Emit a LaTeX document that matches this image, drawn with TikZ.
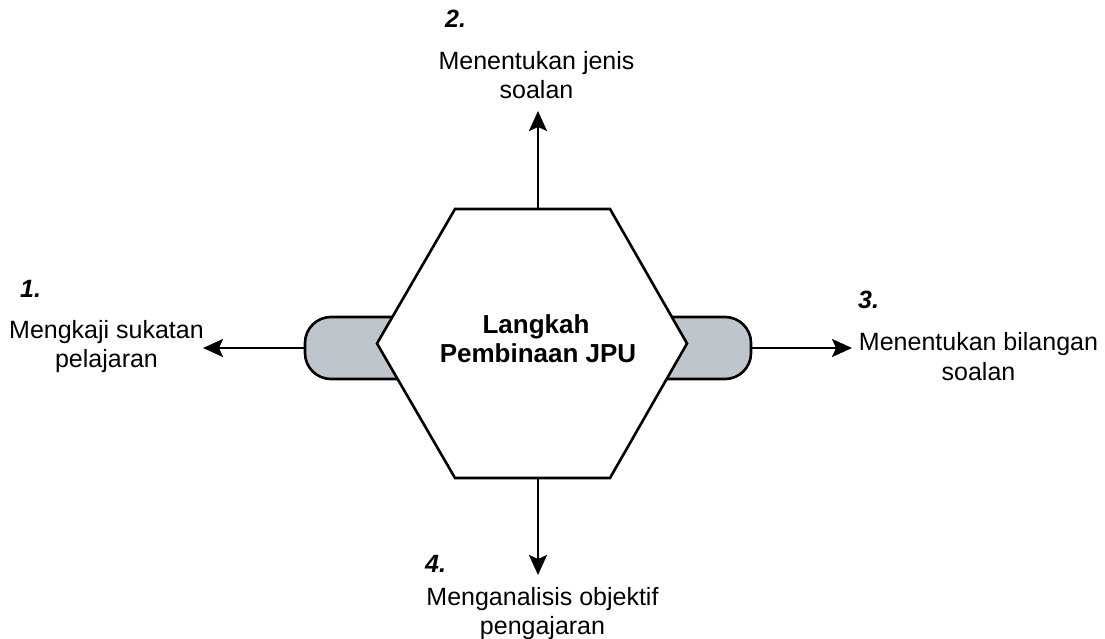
\documentclass[tikz,border=0pt]{standalone}
\usepackage{fontspec}
\setmainfont{Liberation Sans}
\usetikzlibrary{arrows.meta}
\definecolor{capgray}{RGB}{191,197,204}
\tikzset{
  outline/.style={draw=black, line width=2.6pt, line join=miter},
  capsule/.style={outline, fill=capgray, rounded corners=26pt},
  conn/.style={draw=black, line width=2.2pt, -{Stealth[length=20pt,width=18pt,inset=4pt]}},
  lbl/.style={inner sep=0pt, anchor=base, font=\fontsize{25pt}{29pt}\selectfont},
  num/.style={inner sep=0pt, anchor=base west, font=\fontsize{25pt}{29pt}\selectfont\bfseries\itshape},
  ctr/.style={inner sep=0pt, anchor=base, font=\fontsize{26pt}{29pt}\selectfont\bfseries}
}
\begin{document}
\begin{tikzpicture}[x=1pt,y=-1pt]
\useasboundingbox (0,0) rectangle (1105,639);
% capsules behind hexagon
\path[capsule] (305,317) rectangle (450,379);
\path[capsule] (615,317) rectangle (751,379);
% hexagon
\coordinate (h1) at (455,209);
\coordinate (h2) at (610,209);
\coordinate (h3) at (687,343.5);
\coordinate (h4) at (610,478);
\coordinate (h5) at (455,478);
\coordinate (h6) at (377,343.5);
\path[outline, fill=white] (h1) -- (h2) -- (h3) -- (h4) -- (h5) -- (h6) -- cycle;
% connector ends
\coordinate (capL) at (305,348);
\coordinate (capR) at (751,348);
\coordinate (hexT) at (538,209);
\coordinate (hexB) at (538,478);
\coordinate (tipL) at (203,348);
\coordinate (tipR) at (852,348);
\coordinate (tipT) at (538,111);
\coordinate (tipB) at (538,575);
\draw[conn] (capL) -- (tipL);
\draw[conn] (capR) -- (tipR);
\draw[conn] (hexT) -- (tipT);
\draw[conn] (hexB) -- (tipB);
% centre text
\node[ctr] (c1) at (536,333) {Langkah};
\node[ctr] (c2) at (538,362) {Pembinaan JPU};
% labels
\node[num] (n2) at (445,28) {2.};
\node[lbl] (t2a) at (536.5,70) {Menentukan jenis};
\node[lbl] (t2b) at (536.5,99) {soalan};
\node[num] (n1) at (20,297) {1.};
\node[lbl] (t1a) at (106.5,338) {Mengkaji sukatan};
\node[lbl] (t1b) at (106.5,367) {pelajaran};
\node[num] (n3) at (858,308) {3.};
\node[lbl] (t3a) at (978.5,350) {Menentukan bilangan};
\node[lbl] (t3b) at (978.5,380) {soalan};
\node[num] (n4) at (425,572) {4.};
\node[lbl] (t4a) at (542.5,605) {Menganalisis objektif};
\node[lbl] (t4b) at (542.5,634) {pengajaran};
\end{tikzpicture}
\end{document}
